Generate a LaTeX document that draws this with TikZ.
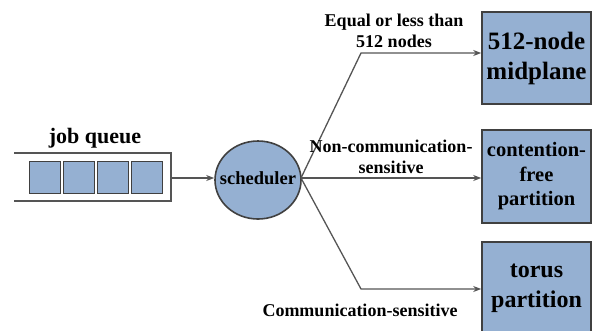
\documentclass[tikz,border=0pt]{standalone}
\usepackage{fontspec}
\setmainfont{LiberationSerif}[Extension=.ttf,UprightFont=*-Regular,BoldFont=*-Bold,ItalicFont=*-Italic,BoldItalicFont=*-BoldItalic]
\usetikzlibrary{shapes.geometric,arrows.meta}
\definecolor{boxfill}{HTML}{95B0D2}
\definecolor{edge}{HTML}{404040}
\definecolor{wire}{HTML}{555555}
\tikzset{
  bluebox/.style={draw=edge,line width=1.6pt,fill=boxfill,minimum width=109pt,inner sep=0pt,align=center,font=\rmfamily\bfseries},
  cell/.style={draw=edge,line width=1.6pt,fill=boxfill,minimum width=31pt,minimum height=32pt,inner sep=0pt},
  wireline/.style={draw=wire,line width=1.3pt},
  arr/.style={wireline,-{Stealth[length=8pt,width=6pt]}},
  lbl/.style={font=\rmfamily\bfseries\fontsize{18}{21}\selectfont,align=center,inner sep=0pt}
}
\begin{document}
\begin{tikzpicture}[x=1pt,y=-1pt]
\useasboundingbox (0,0) rectangle (601,330);
\clip (0,0) rectangle (601,330);
% queue
\draw[wireline] (14,153) -- (171,153) -- (171,201) -- (14,201);
\coordinate (qr) at (171,178);
\foreach \i/\x in {1/45,2/79,3/113,4/147}
  \node[cell] (q\i) at (\x,177.5) {};
\node[font=\rmfamily\bfseries\fontsize{22}{26}\selectfont,inner sep=0pt] (jq) at (95,138) {job queue};
% scheduler
\node[ellipse,draw=edge,line width=1.6pt,fill=boxfill,minimum width=86pt,minimum height=78pt,inner sep=0pt] (sched) at (258,180) {};
\node[font=\rmfamily\bfseries\fontsize{18.5}{22}\selectfont,inner sep=0pt] (schedtxt) at (258,178) {scheduler};
\draw[arr] (qr) -- (qr -| sched.west);
% boxes
\node[bluebox,minimum height=92pt,font=\rmfamily\bfseries\fontsize{25}{30}\selectfont] (top) at (536.5,58) {512-node\\midplane};
\node[bluebox,minimum height=93pt,font=\rmfamily\bfseries\fontsize{20.5}{24.5}\selectfont] (mid) at (536.5,176.5) {contention-\\free\\partition};
\node[bluebox,minimum height=93pt,font=\rmfamily\bfseries\fontsize{24}{30}\selectfont] (bot) at (536.5,288.5) {torus\\partition};
% branches
\coordinate (br) at (301,178);
\coordinate (bt) at (361,53);
\coordinate (bb) at (361,289);
\draw[arr] (br) -- (bt) -- (bt -| top.west);
\draw[arr] (br) -- (br -| mid.west);
\draw[arr] (br) -- (bb) -- (bb -| bot.west);
% labels
\node[lbl] (l1) at (394,30.5) {Equal or less than\\512 nodes};
\node[lbl] (l2) at (391,157) {Non-communication-\\sensitive};
\node[lbl] (l3) at (360,310) {Communication-sensitive};
\end{tikzpicture}
\end{document}
